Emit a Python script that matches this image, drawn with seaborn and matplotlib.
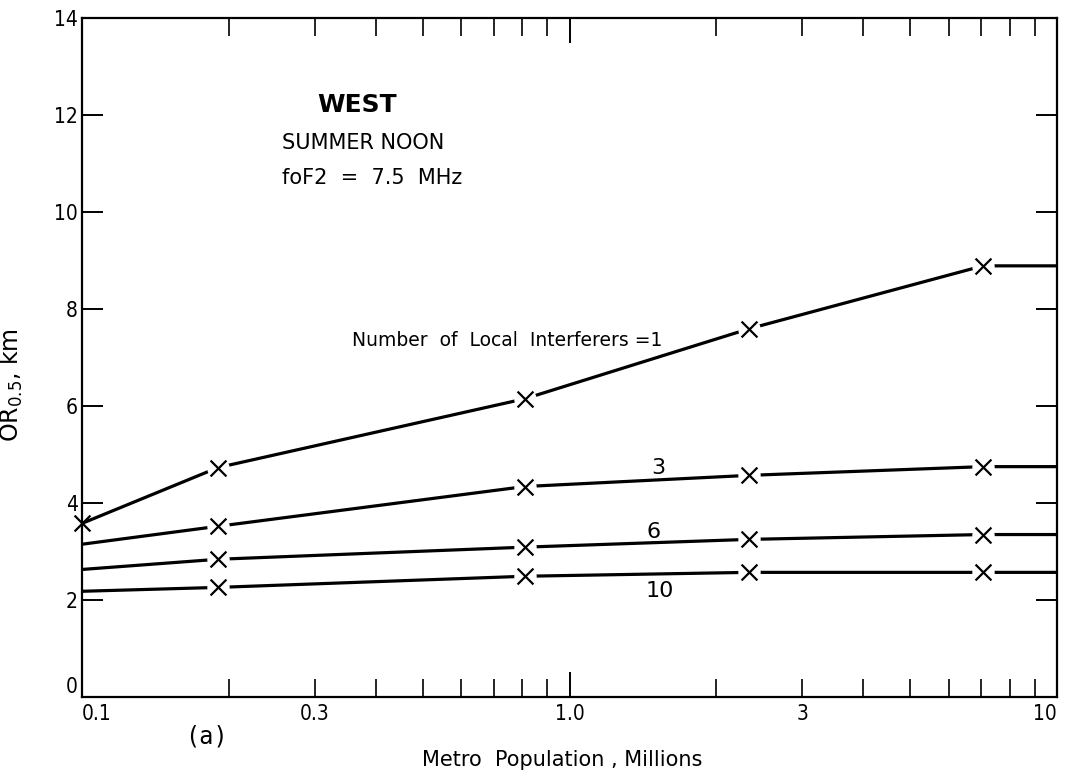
import matplotlib
matplotlib.use("Agg")
import matplotlib.pyplot as plt
import seaborn as sns
import pandas as pd

# Values
population = [0.1, 0.19, 0.81, 2.33, 7.05, 10]
interferers = ["1", "3", "6", "10"]
or_1 = [3.58, 4.73, 6.15, 7.59, 8.89, 8.89]
or_3 = [3.15, 3.52, 4.34, 4.57, 4.75, 4.75]
or_6 = [2.63, 2.84, 3.09, 3.25, 3.35, 3.35]
or_10 = [2.18, 2.26, 2.49, 2.57, 2.57, 2.57]
# which points carry an "x" marker
marked_1 = [True, True, True, True, True, False]
marked_other = [False, True, True, True, True, False]

y_ticks = [0, 2, 4, 6, 8, 10, 12, 14]
x_major = [0.1, 1.0, 10]
x_major_labels = ["0.1", "1.0", "10"]
x_minor = [0.2, 0.3, 0.4, 0.5, 0.6, 0.7, 0.8, 0.9,
           2, 3, 4, 5, 6, 7, 8, 9]
x_minor_labels = ["", "0.3", "", "", "", "", "", "",
                  "", "3", "", "", "", "", "", ""]

rows = []
for name, vals, marks in zip(interferers, [or_1, or_3, or_6, or_10],
                             [marked_1, marked_other, marked_other, marked_other]):
    for x, y, m in zip(population, vals, marks):
        rows.append({"pop": x, "or": y, "n": name, "marked": m})
df = pd.DataFrame(rows)

sns.set_theme(style="ticks")
plt.rcParams["font.family"] = ["DejaVu Sans"]
plt.rcParams["text.color"] = "black"
plt.rcParams["axes.labelcolor"] = "black"

fig = plt.figure(figsize=(10.65, 7.73), dpi=100)
ax = fig.add_axes([0.077, 0.0983, 0.9155, 0.8784])

sns.lineplot(data=df, x="pop", y="or", hue="n", palette=["black"] * 4,
             linewidth=2.3, legend=False, ax=ax, zorder=2)

mk = df[df["marked"]]
inner = mk[mk["pop"] > 0.1]
# white blobs give the small gaps around each cross
sns.scatterplot(data=inner, x="pop", y="or", color="white", s=260,
                marker="o", linewidth=0, legend=False, ax=ax, zorder=2.1)
sns.scatterplot(data=mk, x="pop", y="or", color="black", s=130,
                marker="x", linewidth=1.6, legend=False, ax=ax, zorder=2.2,
                clip_on=False)

ax.set_xscale("log")
ax.set_xlim(0.1, 10)
ax.set_ylim(0, 14)

for s in ax.spines.values():
    s.set_color("black")
    s.set_linewidth(1.6)
    s.set_zorder(3)

ax.set_yticks(y_ticks)
ax.set_yticklabels([str(v) for v in y_ticks], fontsize=15, fontstretch="condensed")
ax.tick_params(axis="y", which="both", direction="in", length=15, width=1.4,
               left=True, right=True, pad=3, colors="black")
ax.get_yticklabels()[0].set_verticalalignment("bottom")

ax.set_xticks(x_major)
ax.set_xticklabels(x_major_labels, fontsize=15, fontstretch="condensed")
ax.set_xticks(x_minor, minor=True)
ax.set_xticklabels(x_minor_labels, minor=True, fontsize=15, fontstretch="condensed")
ax.tick_params(axis="x", which="major", direction="in", length=18, width=1.4,
               top=True, bottom=True, pad=5, colors="black")
ax.tick_params(axis="x", which="minor", direction="in", length=13, width=1.2,
               top=True, bottom=True, pad=5, colors="black")
ax.get_xticklabels()[-1].set_horizontalalignment("right")
ax.get_xticklabels()[0].set_horizontalalignment("left")

ax.set_xlabel("Metro  Population , Millions", fontsize=15)
ax.xaxis.set_label_coords(0.493, -0.078)
ax.set_ylabel("OR$_{0.5}$, km", fontsize=17)
ax.yaxis.set_label_coords(-0.058, 0.46)

# title block
ax.text(0.282, 0.872, "WEST", transform=ax.transAxes, fontsize=18,
        fontweight="bold", ha="center", va="center")
ax.text(0.205, 0.816, "SUMMER NOON", transform=ax.transAxes, fontsize=15,
        ha="left", va="center")
ax.text(0.205, 0.764, "foF2  =  7.5  MHz", transform=ax.transAxes, fontsize=15,
        ha="left", va="center")

# curve labels
ax.text(0.358, 7.36, "Number  of  Local  Interferers =1", fontsize=13.5,
        ha="left", va="center")
ax.text(1.52, 4.72, "3", fontsize=16, ha="center", va="center")
ax.text(1.49, 3.40, "6", fontsize=16, ha="center", va="center")
ax.text(1.53, 2.19, "10", fontsize=16, ha="center", va="center")

fig.text(0.194, 0.047, "(a)", family="DejaVu Sans Mono", fontsize=17,
         ha="center", va="center")

fig.savefig("out.png", dpi=100, facecolor="white")
